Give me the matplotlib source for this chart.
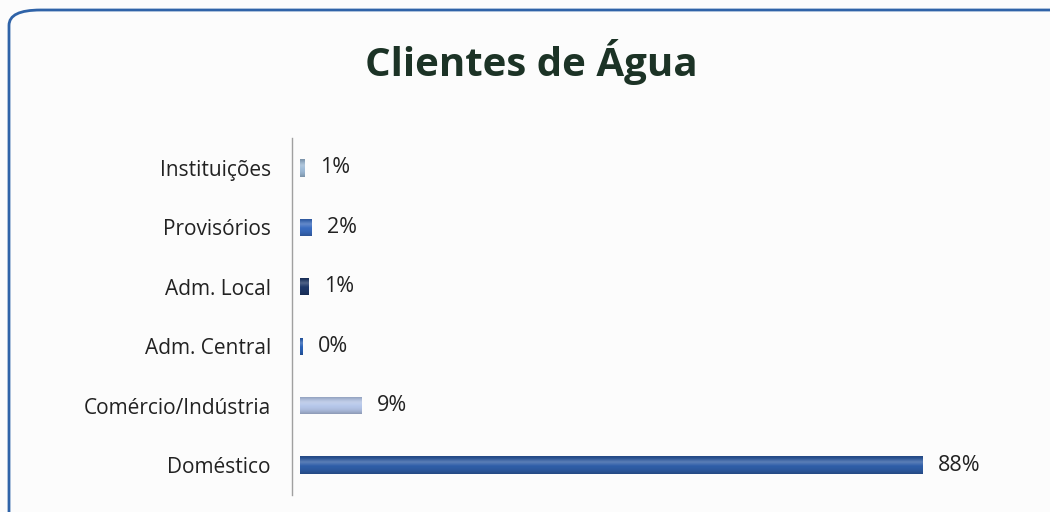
import matplotlib
matplotlib.use("Agg")
import matplotlib.pyplot as plt
import numpy as np
from matplotlib.patches import FancyBboxPatch
from matplotlib.colors import to_rgb

categories = ["Doméstico", "Comércio/Indústria", "Adm. Central", "Adm. Local", "Provisórios", "Instituições"]
values = [88.4, 8.8, 0.3, 1.2, 1.6, 0.7]
labels = ["88%", "9%", "0%", "1%", "2%", "1%"]
colors = ["#2f5ea8", "#b6c7ea", "#2a62b8", "#1e3869", "#3a6cc0", "#9fbcd8"]

plt.rcParams['font.family'] = ['Open Sans', 'DejaVu Sans']

fig = plt.figure(figsize=(10.5, 5.12), dpi=100)
fig.patch.set_facecolor("#fcfcfc")

border = FancyBboxPatch((9/1050, -0.1), 1.2, 1 - 10/512 + 0.1,
                        boxstyle="round,pad=0,rounding_size=0.03",
                        transform=fig.transFigure, fill=False,
                        edgecolor="#2f63a8", linewidth=2, clip_on=False)
fig.patches.append(border)

fig.text(531/1050, 1 - 62/512, "Clientes de Água", ha="center", va="center",
         fontsize=29, fontweight="bold", color="#1c3326")

ax = fig.add_axes([300/1050, 1 - 494.75/512, 704.5/1050, (494.75 - 138.25)/512])
ax.set_facecolor("none")
y = list(range(len(categories)))
bars = ax.barh(y, values, height=0.29, color=colors, edgecolor="none")

# soft cylinder-like shading
for patch, c in zip(bars, colors):
    base = np.array(to_rgb(c))
    t = np.linspace(-1, 1, 32)
    shade = 1 - 0.22 * t**2
    light = np.clip(1 - np.abs(t - 0.35) * 2.2, 0, 1) * 0.22
    grad = base[None, :] * shade[:, None] + (1 - base[None, :]) * light[:, None]
    grad = np.clip(grad, 0, 1)[:, None, :]
    x0, y0 = patch.get_x(), patch.get_y()
    w, h = patch.get_width(), patch.get_height()
    im = ax.imshow(grad, extent=(x0, x0 + w, y0, y0 + h), aspect="auto",
                   origin="lower", interpolation="bilinear", zorder=patch.get_zorder())
    im.set_clip_path(patch)

for yi, v, lab in zip(y, values, labels):
    ax.annotate(lab, (v, yi), xytext=(11, 0), textcoords="offset points",
                ha="left", va="center", fontsize=15.5, color="#222222")
ax.set_xlim(0, 100)
ax.set_ylim(-0.5, 5.5)
ax.set_yticks(y)
ax.set_yticklabels(categories)
ax.tick_params(axis="y", length=0, pad=15, labelsize=15, labelcolor="#222222")
ax.set_xticks([])
for s in ["top", "right", "bottom"]:
    ax.spines[s].set_visible(False)
ax.spines["left"].set_color("#a0a0a0")
ax.spines["left"].set_linewidth(1)
ax.spines["left"].set_position(("outward", 6))

fig.savefig("out.png", dpi=100, facecolor=fig.get_facecolor())
